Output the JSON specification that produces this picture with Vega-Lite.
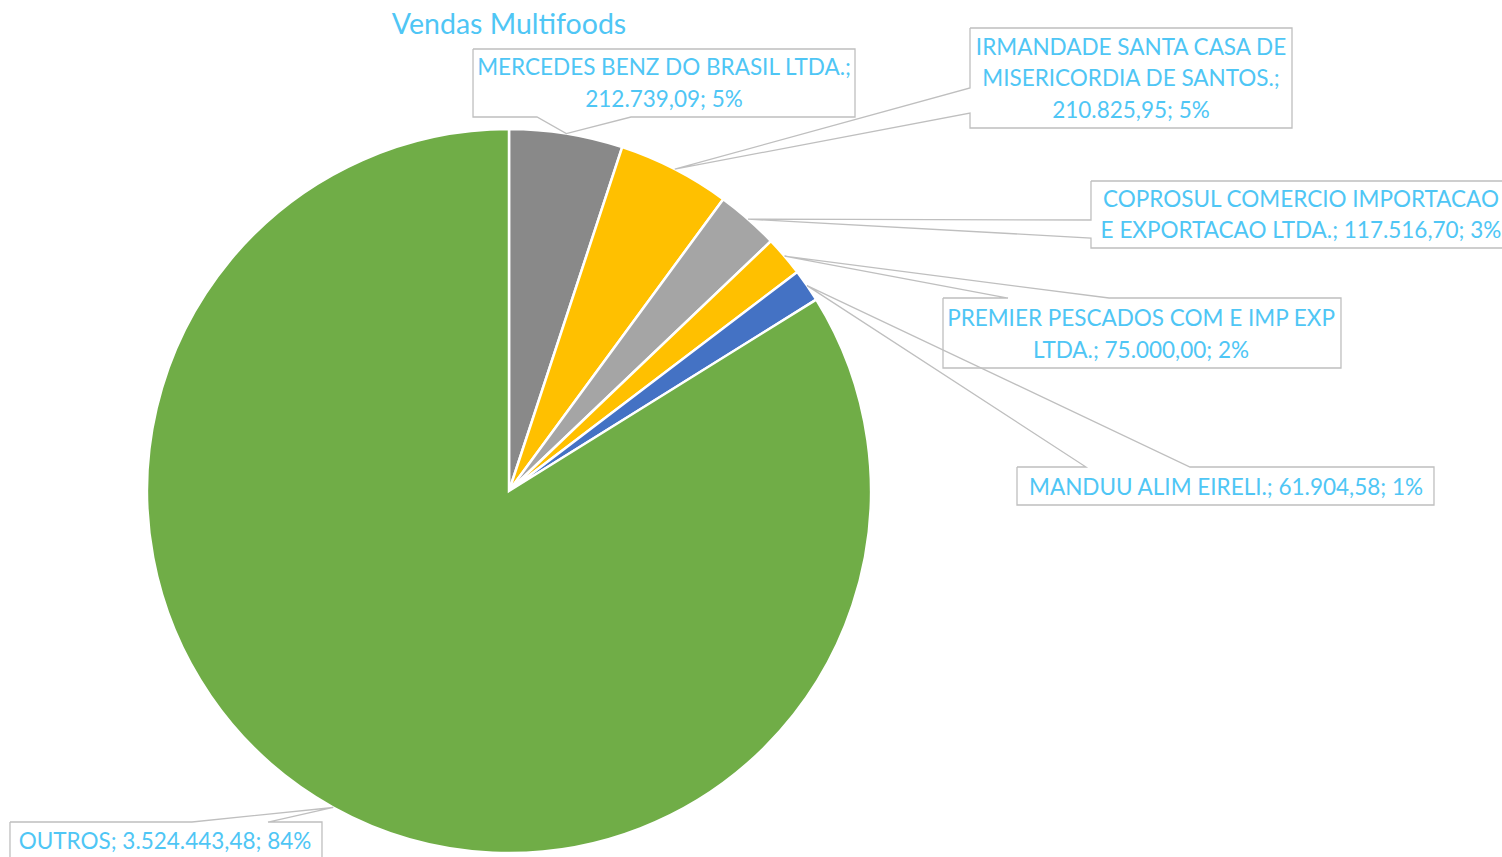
{
  "$schema": "https://vega.github.io/schema/vega-lite/v6.json",
  "autosize": "none",
  "width": 1018,
  "height": 724,
  "padding": {"left": 0, "top": 129, "right": 484, "bottom": 4},
  "background": "white",
  "config": {"view": {"stroke": null}},
  "title": {"text": "Vendas Multifoods", "font": "Lato", "fontSize": 28.5, "fontWeight": "normal", "color": "#4FC6F5", "anchor": "middle", "frame": "group", "baseline": "top", "offset": -14},
  "data": {"values": [
    {"name": "MERCEDES BENZ DO BRASIL LTDA.", "value": 212739.09, "label": "MERCEDES BENZ DO BRASIL LTDA.;\n212.739,09; 5%"},
    {"name": "IRMANDADE SANTA CASA DE MISERICORDIA DE SANTOS.", "value": 210825.95, "label": "IRMANDADE SANTA CASA DE\nMISERICORDIA DE SANTOS.;\n210.825,95; 5%"},
    {"name": "COPROSUL COMERCIO IMPORTACAO E EXPORTACAO LTDA.", "value": 117516.70, "label": "COPROSUL COMERCIO IMPORTACAO\nE EXPORTACAO LTDA.; 117.516,70; 3%"},
    {"name": "PREMIER PESCADOS COM E IMP EXP LTDA.", "value": 75000.00, "label": "PREMIER PESCADOS COM E IMP EXP\nLTDA.; 75.000,00; 2%"},
    {"name": "MANDUU ALIM EIRELI.", "value": 61904.58, "label": "MANDUU ALIM EIRELI.; 61.904,58; 1%"},
    {"name": "OUTROS", "value": 3524443.48, "label": "OUTROS; 3.524.443,48; 84%"}
  ]},
  "transform": [
    {"window": [{"op": "row_number", "as": "i"}]},
    {"calculate": "datum.i - 1", "as": "j"},
    {"joinaggregate": [{"op": "sum", "field": "value", "as": "total"}]},
    {"window": [{"op": "sum", "field": "value", "as": "cum"}], "sort": [{"field": "i"}], "frame": [null, 0]},
    {"calculate": "2*PI*(datum.cum - datum.value/2)/datum.total", "as": "mid"},
    {"calculate": "sin(datum.mid)", "as": "tipx"},
    {"calculate": "cos(datum.mid)", "as": "tipy"}
  ],
  "layer": [
    {
      "mark": {"type": "arc", "stroke": "white", "strokeWidth": 2.5},
      "encoding": {
        "theta": {"field": "value", "type": "quantitative", "stack": true},
        "order": {"field": "i", "type": "quantitative"},
        "color": {
          "field": "name", "type": "nominal", "legend": null,
          "scale": {
            "domain": ["MERCEDES BENZ DO BRASIL LTDA.", "IRMANDADE SANTA CASA DE MISERICORDIA DE SANTOS.", "COPROSUL COMERCIO IMPORTACAO E EXPORTACAO LTDA.", "PREMIER PESCADOS COM E IMP EXP LTDA.", "MANDUU ALIM EIRELI.", "OUTROS"],
            "range": ["#898989", "#FFC000", "#A5A5A5", "#FFC000", "#4472C4", "#70AD47"]
          }
        }
      }
    },
    {
      "transform": [
        {"calculate": "[[[-0.0994,1.221],[0.9558,1.221],[0.9558,1.0331],[0.337,1.0331],null,[0.0773,1.0331],[-0.0994,1.0331],[-0.0994,1.221]],[[1.2735,1.279],[2.163,1.279],[2.163,1.0028],[1.2735,1.0028],[1.2735,1.0442],null,[1.2735,1.1133],[1.2735,1.279]],[[1.6077,0.8564],[2.7652,0.8564],[2.7652,0.6713],[1.6077,0.6713],[1.6077,0.6989],null,[1.6077,0.7486],[1.6077,0.8564]],[[1.1989,0.5331],[1.3785,0.5331],null,[1.6575,0.5331],[2.2983,0.5331],[2.2983,0.3398],[1.1989,0.3398],[1.1989,0.5331]],[[1.4033,0.0663],[1.5939,0.0663],null,[1.8812,0.0663],[2.5552,0.0663],[2.5552,-0.0387],[1.4033,-0.0387],[1.4033,0.0663]],[[-1.3785,-0.9144],[-0.8757,-0.9144],null,[-0.6657,-0.9144],[-0.5166,-0.9144],[-0.5166,-1.0249],[-1.3785,-1.0249],[-1.3785,-0.9144]]][datum.j]", "as": "pts"},
        {"flatten": ["pts"], "as": ["pt"]},
        {"window": [{"op": "row_number", "as": "k"}], "groupby": ["name"]},
        {"calculate": "datum.pt ? datum.pt[0] : datum.tipx", "as": "px"},
        {"calculate": "datum.pt ? datum.pt[1] : datum.tipy", "as": "py"}
      ],
      "mark": {"type": "line", "stroke": "#BFBFBF", "strokeWidth": 1.3, "strokeJoin": "miter"},
      "encoding": {
        "x": {"field": "px", "type": "quantitative", "scale": {"domain": [-1.406077, 1.406077], "nice": false, "zero": false}, "axis": null},
        "y": {"field": "py", "type": "quantitative", "scale": {"domain": [-1, 1], "nice": false, "zero": false}, "axis": null},
        "detail": {"field": "name"},
        "order": {"field": "k", "type": "quantitative"}
      }
    },
    {
      "transform": [
        {"calculate": "[0.4282, 1.7182, 2.1878, 1.7459, 1.9807, -0.9503][datum.j]", "as": "tx"},
        {"calculate": "[1.1685, 1.2238, 0.8039, 0.4751, 0.0083, -0.9696][datum.j]", "as": "ty"}
      ],
      "mark": {"type": "text", "font": "Lato", "fontSize": 22.5, "color": "#4FC6F5", "align": "center", "baseline": "middle", "lineBreak": "\n", "lineHeight": 31.5},
      "encoding": {
        "x": {"field": "tx", "type": "quantitative", "scale": {"domain": [-1.406077, 1.406077], "nice": false, "zero": false}, "axis": null},
        "y": {"field": "ty", "type": "quantitative", "scale": {"domain": [-1, 1], "nice": false, "zero": false}, "axis": null},
        "text": {"field": "label"}
      }
    }
  ]
}
